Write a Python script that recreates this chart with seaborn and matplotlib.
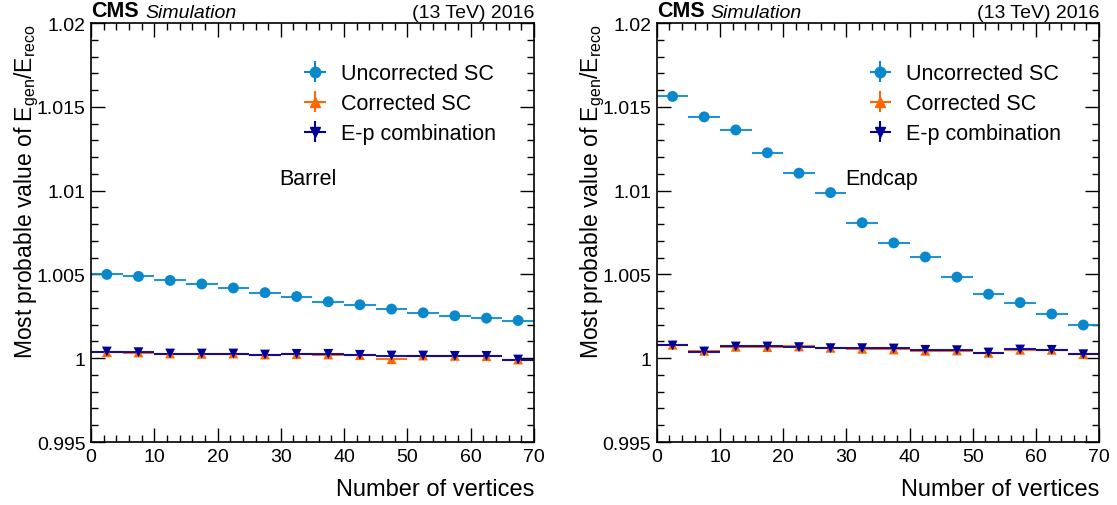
import numpy as np
import pandas as pd
import seaborn as sns
import matplotlib.pyplot as plt
from matplotlib.ticker import MultipleLocator, FuncFormatter

# bin centres (number of vertices), 5 wide bins
nvtx = [2.5, 7.5, 12.5, 17.5, 22.5, 27.5, 32.5, 37.5, 42.5, 47.5, 52.5, 57.5, 62.5, 67.5]
half_width = [2.5] * 14
stat_err = [0.00004] * 14

# Barrel
barrel_uncorr = [1.00500, 1.00488, 1.00464, 1.00443, 1.00419, 1.00391, 1.00368,
                 1.00337, 1.00319, 1.00293, 1.00271, 1.00253, 1.00239, 1.00225]
barrel_corr = [1.00036, 1.00034, 1.00028, 1.00026, 1.00028, 1.00022, 1.00024,
               1.00022, 1.00018, 0.99994, 1.00016, 1.00014, 1.00012, 0.99992]
barrel_ep = [1.00040, 1.00036, 1.00028, 1.00028, 1.00028, 1.00022, 1.00026,
             1.00026, 1.00020, 1.00016, 1.00016, 1.00014, 1.00014, 0.99992]

# Endcap
endcap_uncorr = [1.01562, 1.01440, 1.01362, 1.01226, 1.01104, 1.00988, 1.00808,
                 1.00688, 1.00604, 1.00484, 1.00382, 1.00332, 1.00264, 1.00198]
endcap_corr = [1.00080, 1.00044, 1.00068, 1.00066, 1.00070, 1.00062, 1.00056,
               1.00052, 1.00044, 1.00046, 1.00032, 1.00050, 1.00050, 1.00024]
endcap_ep = [1.00076, 1.00040, 1.00070, 1.00070, 1.00066, 1.00060, 1.00060,
             1.00058, 1.00050, 1.00048, 1.00034, 1.00052, 1.00050, 1.00024]

labels = ["Uncorrected SC", "Corrected SC", "E-p combination"]
colors = ["#0a88cc", "#ff6600", "#000099"]
markers = ["o", "^", "v"]

sns.set_style("ticks", {"axes.edgecolor": "black", "xtick.color": "black",
                        "ytick.color": "black", "text.color": "black",
                        "axes.labelcolor": "black"})
plt.rcParams["font.family"] = ["Liberation Sans", "DejaVu Sans"]
plt.rcParams["mathtext.fontset"] = "custom"
plt.rcParams["mathtext.rm"] = "Liberation Sans"
plt.rcParams["mathtext.it"] = "Liberation Sans:italic"

fig = plt.figure(figsize=(11.17, 5.06), dpi=100)
ax_b = fig.add_axes([0.0815, 0.1245, 0.3965, 0.828])
ax_e = fig.add_axes([0.588, 0.1245, 0.396, 0.828])

panels = [
    (ax_b, "Barrel", [barrel_uncorr, barrel_corr, barrel_ep]),
    (ax_e, "Endcap", [endcap_uncorr, endcap_corr, endcap_ep]),
]

for ax, region, series in panels:
    for vals, lab, col, mk in zip(series, labels, colors, markers):
        df = pd.DataFrame({"nvtx": nvtx, "val": vals})
        ax.errorbar(df["nvtx"], df["val"], xerr=half_width, yerr=stat_err,
                    fmt="none", ecolor=col, elinewidth=1.5, alpha=0.9, zorder=2)
        sns.scatterplot(data=df, x="nvtx", y="val", ax=ax, color=col, marker=mk,
                        s=62 if mk == "o" else 50, edgecolor="none", zorder=3,
                        legend=False)
        # legend proxy
        ax.errorbar([], [], xerr=[], yerr=[], fmt=mk, color=col, ms=7.5,
                    elinewidth=1.5, label=lab)

    ax.set_xlim(0, 70)
    ax.set_ylim(0.995, 1.02)
    ax.xaxis.set_major_locator(MultipleLocator(10))
    ax.xaxis.set_minor_locator(MultipleLocator(2))
    ax.yaxis.set_major_locator(MultipleLocator(0.005))
    ax.yaxis.set_minor_locator(MultipleLocator(0.001))
    ax.yaxis.set_major_formatter(FuncFormatter(lambda v, p: f"{v:.4g}"))
    ax.tick_params(which="both", direction="in", top=True, right=True,
                   labelsize=14, pad=4, width=1, colors="black")
    ax.tick_params(which="major", length=10)
    ax.tick_params(which="minor", length=5)
    for sp in ax.spines.values():
        sp.set_linewidth(1.2)
        sp.set_color("black")

    ax.set_xlabel("Number of vertices", fontsize=17, loc="right", labelpad=10)
    ax.set_ylabel(r"Most probable value of E$_{\mathregular{gen}}$/E$_{\mathregular{reco}}$",
                  fontsize=16.5, loc="top", labelpad=-3)

    ax.text(0, 1.006, "CMS", transform=ax.transAxes, fontsize=15.5,
            fontweight="bold", ha="left", va="bottom")
    ax.text(0.122, 1.006, "Simulation", transform=ax.transAxes, fontsize=14,
            fontstyle="italic", ha="left", va="bottom")
    ax.text(1.0, 1.006, "(13 TeV) 2016", transform=ax.transAxes, fontsize=14,
            ha="right", va="bottom")
    ax.text(0.425, 0.63, region, transform=ax.transAxes, fontsize=15.5,
            ha="left", va="center")

    ax.legend(loc="upper left", bbox_to_anchor=(0.44, 0.925), frameon=False,
              fontsize=15.5, handlelength=1.9, handletextpad=0.25,
              labelspacing=0.42, borderaxespad=0)

fig.savefig("out.png", dpi=100)
